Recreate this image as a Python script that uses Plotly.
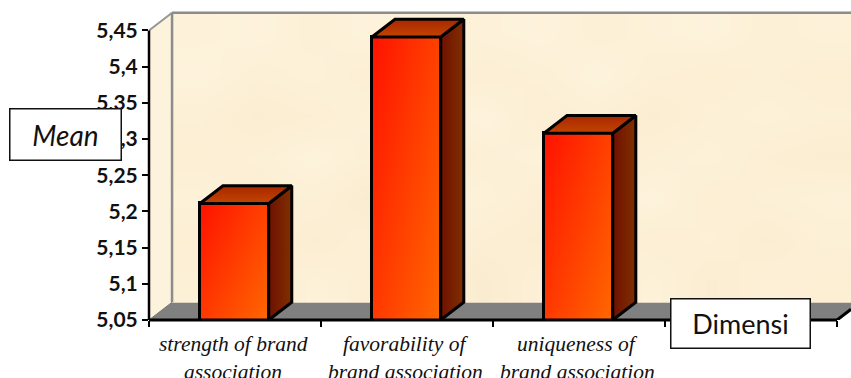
import numpy as np
import plotly.graph_objects as go

# Chart data
categories = [0, 1, 2]
label_line1 = ["strength of brand", "favorability of", "uniqueness of"]
label_line2 = ["association", "brand association", "brand association"]
means = [5.211, 5.441, 5.308]
y_ticks = [5.05, 5.1, 5.15, 5.2, 5.25, 5.3, 5.35, 5.4, 5.45]
y_labels = ["5,05", "5,1", "5,15", "5,2", "5,25", "5,3", "5,35", "5,4", "5,45"]
x_boundaries = [-0.5, 0.5, 1.5, 2.5, 3.5]

# Hand-set mottling of the parchment back wall
wall_tone = [
    [0.6, 0.4, 0.7, 0.5, 0.6, 0.3, 0.6, 0.5, 0.7, 0.4, 0.6, 0.5],
    [0.5, 0.7, 0.4, 0.6, 0.8, 0.5, 0.4, 0.7, 0.5, 0.6, 0.4, 0.6],
    [0.7, 0.5, 0.6, 0.3, 0.6, 0.7, 0.5, 0.6, 0.8, 0.5, 0.6, 0.7],
    [0.5, 0.6, 0.8, 0.6, 0.4, 0.6, 0.7, 0.4, 0.6, 0.7, 0.5, 0.4],
    [0.6, 0.4, 0.5, 0.7, 0.6, 0.8, 0.5, 0.6, 0.4, 0.6, 0.7, 0.6],
    [0.8, 0.6, 0.7, 0.5, 0.7, 0.5, 0.6, 0.8, 0.6, 0.5, 0.6, 0.5],
    [0.7, 0.8, 0.6, 0.8, 0.6, 0.7, 0.8, 0.6, 0.7, 0.8, 0.6, 0.7],
]

# Axis geometry and pseudo-3D depth, in data units
Y_MIN, Y_MAX = 5.05, 5.4783
X_MIN, X_MAX = -0.5, 3.581
DX, DY = 0.134, 0.0245
WALL_TOP = 5.4745
BAR_W = 0.40
BAR_SHIFT = -0.004
EDGE = 3

fig = go.Figure()

# Back wall; x and y are cell edges so the wall stops at the floor and side wall
wall_x = np.linspace(X_MIN + DX, X_MAX, len(wall_tone[0]) + 1)
wall_y = np.linspace(Y_MIN + DY, WALL_TOP, len(wall_tone) + 1)
fig.add_trace(go.Heatmap(
    x=wall_x, y=wall_y, z=wall_tone, zsmooth="best", showscale=False,
    zmin=0, zmax=1, hoverinfo="skip",
    colorscale=[[0, "#F8E8C8"], [1, "#FFF5E0"]],
))

# Front faces: a diagonal red-to-orange ramp under each outlined bar
centres = [c + BAR_SHIFT for c in categories]
n = 24
ramp = [[(i / (n - 1)) * 0.55 + (1 - j / (n - 1)) * 0.45 for i in range(n)] for j in range(n)]
for c, v in zip(centres, means):
    fig.add_trace(go.Heatmap(
        x=np.linspace(c - BAR_W / 2, c + BAR_W / 2, n + 1),
        y=np.linspace(Y_MIN, v, n + 1),
        z=ramp, zsmooth="best", showscale=False, zmin=0, zmax=1, hoverinfo="skip",
        colorscale=[[0, "#FF1400"], [1, "#FF6600"]],
    ))
fig.add_trace(go.Bar(
    x=centres, y=means, width=BAR_W, hoverinfo="skip",
    marker=dict(color="rgba(0,0,0,0)", line=dict(color="black", width=EDGE)),
))

# Side and top faces of each bar
for c, v in zip(centres, means):
    l, r = c - BAR_W / 2, c + BAR_W / 2
    fig.add_trace(go.Scatter(
        x=[r, r + DX, r + DX, r, r], y=[Y_MIN, Y_MIN + DY, v + DY, v, Y_MIN],
        mode="lines", fill="toself", hoverinfo="skip",
        line=dict(color="black", width=EDGE),
        fillgradient=dict(type="horizontal", colorscale=[[0, "#701000"], [1, "#7F3000"]]),
    ))
    fig.add_trace(go.Scatter(
        x=[l, l + DX, r + DX, r, l], y=[v, v + DY, v + DY, v, v],
        mode="lines", fill="toself", hoverinfo="skip",
        line=dict(color="black", width=EDGE),
        fillgradient=dict(type="vertical", colorscale=[[0, "#C24400"], [1, "#A82800"]]),
    ))

# Closing diagonal of the floor on the right
fig.add_trace(go.Scatter(
    x=[3.5, X_MAX], y=[Y_MIN, Y_MIN + DY * (X_MAX - 3.5) / DX],
    mode="lines", hoverinfo="skip", line=dict(color="black", width=EDGE),
))

shapes = [
    # Side wall
    dict(type="path", layer="below", xref="x", yref="y", line=dict(width=0),
         fillcolor="#FDF3DC",
         path=f"M {X_MIN} {Y_MIN} L {X_MIN + DX} {Y_MIN + DY} L {X_MIN + DX} {WALL_TOP} L {X_MIN} 5.45 Z"),
    # Floor
    dict(type="path", layer="below", xref="x", yref="y", fillcolor="#808080",
         line=dict(color="#777777", width=1),
         path=f"M {X_MIN} {Y_MIN} L {X_MIN + DX} {Y_MIN + DY} L {3.5 + DX} {Y_MIN + DY} L 3.5 {Y_MIN} Z"),
    # Wall frame
    dict(type="line", layer="above", xref="x", yref="y", line=dict(color="#969696", width=2),
         x0=X_MIN, x1=X_MIN + DX, y0=5.45, y1=WALL_TOP),
    dict(type="line", layer="above", xref="x", yref="y", line=dict(color="#8C8C8C", width=2.5),
         x0=X_MIN + DX, x1=X_MIN + DX, y0=Y_MIN + DY, y1=WALL_TOP),
    dict(type="line", layer="above", xref="x", yref="y", line=dict(color="#8C8C8C", width=2.5),
         x0=X_MIN + DX, x1=X_MAX, y0=WALL_TOP, y1=WALL_TOP),
    # Axis lines
    dict(type="line", layer="above", xref="paper", yref="y", line=dict(color="black", width=2.5),
         x0=0, x1=0, y0=5.05, y1=5.45),
    dict(type="line", layer="above", xref="x", yref="paper", line=dict(color="black", width=3),
         x0=-0.5, x1=3.5, y0=0, y1=0),
]

annotations = []
for c, a, b in zip(categories, label_line1, label_line2):
    for text, shift in ((a, -24), (b, -52)):
        annotations.append(dict(
            x=c, y=0, xref="x", yref="paper", xshift=-2, yshift=shift, yanchor="middle", showarrow=False,
            text=f"<i>{text}</i>", font=dict(family="Liberation Serif", size=21.5, color="#111111"),
        ))

# Boxed axis captions, centred in plot-area paper coordinates
plot_left, plot_top, plot_w, plot_h = 149, 10, 702, 310
annotations.append(dict(
    x=(65.5 - plot_left) / plot_w, y=(plot_top + plot_h - 134.5) / plot_h,
    xref="paper", yref="paper", xanchor="center", yanchor="middle",
    showarrow=False, text="<i>Mean</i>", width=110, height=50, align="center", valign="middle",
    bgcolor="white", bordercolor="#111111", borderwidth=1.5, borderpad=0,
    font=dict(family="Lato", size=28, color="#111111"),
))
annotations.append(dict(
    x=(740.5 - plot_left) / plot_w, y=(plot_top + plot_h - 323.5) / plot_h,
    xref="paper", yref="paper", xanchor="center", yanchor="middle",
    showarrow=False, text="Dimensi", width=138, height=48, align="center", valign="middle",
    bgcolor="white", bordercolor="#111111", borderwidth=1.5, borderpad=0,
    font=dict(family="Lato", size=27, color="#111111"),
))

fig.update_layout(
    width=851, height=378, autosize=False, showlegend=False,
    margin=dict(l=plot_left, r=0, t=plot_top, b=378 - plot_top - plot_h, pad=0),
    paper_bgcolor="white", plot_bgcolor="white",
    bargap=0, shapes=shapes, annotations=annotations,
    xaxis=dict(
        range=[X_MIN, X_MAX], showgrid=False, zeroline=False, showline=False,
        tickvals=x_boundaries, ticktext=[""] * len(x_boundaries),
        ticks="outside", ticklen=6, tickwidth=2, tickcolor="black",
    ),
    yaxis=dict(
        range=[Y_MIN, Y_MAX], showgrid=False, zeroline=False, showline=False,
        tickvals=y_ticks, ticktext=y_labels, ticks="outside", ticklen=6, tickwidth=2,
        tickcolor="black", tickfont=dict(family="Lato", size=21, color="#111111", weight=700),
    ),
)

fig.write_html("out.html", config={"displayModeBar": False})
